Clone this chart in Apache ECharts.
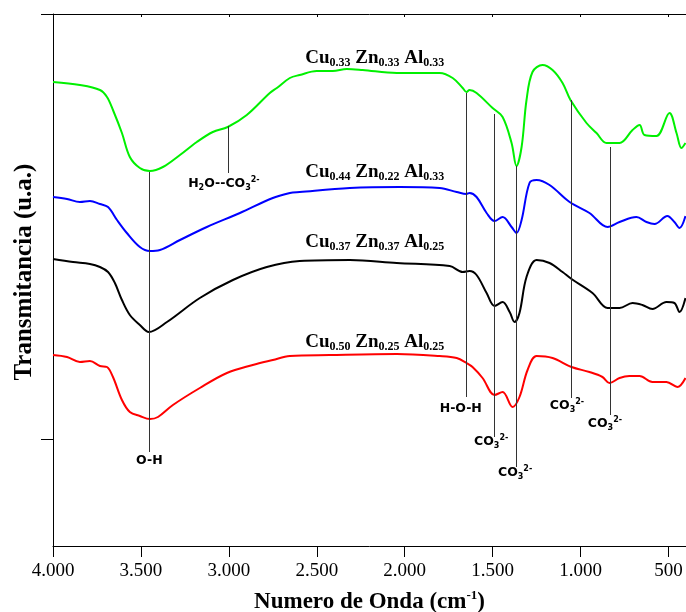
<!DOCTYPE html>
<html>
<head>
<meta charset="utf-8">
<script src="https://cdn.jsdelivr.net/npm/echarts@6/dist/echarts.min.js"></script>
<style>
  html, body { margin: 0; background: #fff; }
  #chart { width: 686px; height: 612px; }
</style>
</head>
<body>
<div id="chart"></div>
<script>
// wave numbers (cm-1) and transmittance (u.a.)
const wnGreen = [4000,3847,3733,3693,3659,3608,3563,3506,3449,3375,3278,3182,3091,3006,2898,2767,2727,2653,2597,2500,2409,2329,2239,2045,1801,1727,1670,1648,1631,1591,1500,1443,1392,1364,1335,1307,1273,1216,1159,1102,1057,966,909,852,778,704,664,636,568,494,454,426,403];
const tGreen = [464,461,456,449,436,413,389,378,375,379,391,404,414,419,431,453,458,468,471,475,475,477,476,473,473,468,458,454,456,453,438,429,403,380,399,446,474,481,476,463,446,423,413,403,403,416,421,411,410,433,413,398,403];

const wnBlue = [4000,3920,3847,3790,3733,3687,3636,3580,3506,3449,3392,3278,3125,2937,2750,2653,2597,2312,2028,1801,1704,1648,1631,1591,1534,1489,1443,1392,1364,1335,1290,1250,1176,1062,949,846,778,682,625,579,506,466,437,403];
const tBlue = [349,347,344,345,342,339,326,313,299,295,296,306,319,333,348,353,354,358,359,358,354,352,353,349,333,325,329,319,313,326,363,366,361,344,333,319,324,329,324,322,330,324,318,330];

const wnBlack = [4000,3886,3790,3733,3687,3648,3608,3563,3506,3455,3352,3165,2977,2784,2597,2312,2045,1744,1670,1631,1591,1534,1489,1443,1403,1375,1347,1307,1250,1176,1102,1051,932,846,778,704,648,591,511,466,437,403];
const tBlack = [287,284,282,279,274,263,246,231,221,214,224,248,266,279,285,286,283,280,274,275,271,253,240,244,234,224,233,269,286,283,274,267,253,238,238,243,241,237,244,243,234,248];

const wnRed = [4000,3920,3847,3790,3733,3693,3659,3608,3563,3506,3449,3403,3318,3165,3011,2864,2750,2653,2426,2045,1801,1704,1648,1614,1557,1489,1443,1386,1347,1301,1250,1159,1051,949,875,835,778,722,664,591,511,449,403];
const tRed = [191,189,184,185,180,179,169,146,134,130,127,129,141,158,173,181,186,190,191,192,190,188,183,179,168,151,154,139,149,176,190,188,179,174,169,163,168,170,170,164,164,159,168];

// band assignments
const annWn = [3450, 3005, 1650, 1490, 1365, 1055, 830];
const annTop = [374, 420, 453, 432, 380, 446, 399];
const annBottom = [94, 373, 149, 109, 79, 148, 131];
const annText = ['{t|O-H}', '{t|H}{b|2}{t|O--CO}{b|3}{p|2-}', '{t|H-O-H}', '{t|CO}{b|3}{p|2-}', '{t|CO}{b|3}{p|2-}', '{t|CO}{b|3}{p|2-}', '{t|CO}{b|3}{p|2-}'];
const annTextWn = [3452, 3028, 1681, 1508, 1372, 1077, 861];
const annTextT = [85, 362, 137, 104, 73, 140, 122];

// sample names
const sampleText = [
  '{m|Cu}{s|0.33}{m| Zn}{s|0.33}{m| Al}{s|0.33}',
  '{m|Cu}{s|0.44}{m| Zn}{s|0.22}{m| Al}{s|0.33}',
  '{m|Cu}{s|0.37}{m| Zn}{s|0.37}{m| Al}{s|0.25}',
  '{m|Cu}{s|0.50}{m| Zn}{s|0.25}{m| Al}{s|0.25}'
];
const sampleWn = 2568;
const sampleT = [488, 374, 304, 204];

const xTicks = [500, 1000, 1500, 2000, 2500, 3000, 3500, 4000];
const yTicks = [107, 532];

const serif = '"Liberation Serif", "Times New Roman", serif';
const sans = '"DejaVu Sans", Verdana, sans-serif';

function pairs(xs, ys) {
  return xs.map((x, i) => [x, ys[i]]);
}

function fmtWn(v) {
  if (v >= 1000) return Math.floor(v / 1000) + '.' + String(v % 1000).padStart(3, '0');
  return String(v);
}

function curve(color, wn, t) {
  return {
    type: 'line',
    data: pairs(wn, t),
    smooth: 0.35,
    symbol: 'none',
    silent: true,
    animation: false,
    lineStyle: {color: color, width: 2},
    z: 3
  };
}

const nameRich = {
  m: {fontFamily: serif, fontWeight: 'bold', fontSize: 19, lineHeight: 22, color: '#000'},
  s: {fontFamily: serif, fontWeight: 'bold', fontSize: 12, lineHeight: 14, verticalAlign: 'bottom', color: '#000'}
};
const annRich = {
  t: {fontFamily: sans, fontWeight: 'bold', fontSize: 12.5, lineHeight: 16, color: '#000'},
  b: {fontFamily: sans, fontWeight: 'bold', fontSize: 8, lineHeight: 10, verticalAlign: 'bottom', color: '#000'},
  p: {fontFamily: sans, fontWeight: 'bold', fontSize: 8, lineHeight: 10, verticalAlign: 'top', color: '#000'}
};

const markPoints = [];
annText.forEach((txt, i) => {
  markPoints.push({
    coord: [annTextWn[i], annTextT[i]],
    label: {show: true, position: 'inside', formatter: txt, rich: annRich}
  });
});
sampleText.forEach((txt, i) => {
  markPoints.push({
    coord: [sampleWn, sampleT[i]],
    label: {show: true, position: 'right', distance: 0, formatter: txt, rich: nameRich}
  });
});

let chart = echarts.init(document.getElementById('chart'));

let option = {
  backgroundColor: '#fff',
  animation: false,
  grid: {left: 53, right: 0, top: 14, bottom: 66, outerBoundsMode: 'none'},
  xAxis: [{
    type: 'value',
    min: 400,
    max: 4000,
    inverse: true,
    position: 'bottom',
    name: '{n|Numero de Onda (cm}{u|-1}{n|)}',
    nameLocation: 'middle',
    nameGap: 43,
    nameTextStyle: {
      rich: {
        n: {fontFamily: serif, fontWeight: 'bold', fontSize: 23, lineHeight: 26, color: '#000'},
        u: {fontFamily: serif, fontWeight: 'bold', fontSize: 13, lineHeight: 14, verticalAlign: 'top', color: '#000'}
      }
    },
    axisLine: {lineStyle: {color: '#000', width: 1}},
    axisTick: {show: true, inside: false, length: 11, customValues: xTicks, lineStyle: {color: '#000'}},
    axisLabel: {customValues: xTicks, formatter: fmtWn, fontFamily: serif, fontSize: 19, color: '#000', margin: 16},
    splitLine: {show: false}
  }, {
    type: 'value',
    min: 400,
    max: 4000,
    inverse: true,
    position: 'top',
    axisLine: {lineStyle: {color: '#000', width: 1}},
    axisTick: {show: true, inside: true, length: 3, customValues: xTicks, lineStyle: {color: '#000'}},
    axisLabel: {show: false},
    splitLine: {show: false}
  }],
  yAxis: {
    type: 'value',
    min: 0,
    max: 532,
    name: 'Transmitancia (u.a.)',
    nameLocation: 'middle',
    nameGap: 16,
    nameTextStyle: {fontFamily: serif, fontWeight: 'bold', fontSize: 25, color: '#000', padding: [0, 0, 0, 16]},
    axisLine: {show: true, lineStyle: {color: '#000', width: 1}},
    axisTick: {show: true, inside: false, length: 12, customValues: yTicks, lineStyle: {color: '#000'}},
    axisLabel: {show: false},
    splitLine: {show: false}
  },
  series: [
    curve('#00f000', wnGreen, tGreen),
    curve('#0000ff', wnBlue, tBlue),
    curve('#000000', wnBlack, tBlack),
    curve('#ff0000', wnRed, tRed),
    {
      type: 'line',
      data: [],
      silent: true,
      animation: false,
      markLine: {
        silent: true,
        animation: false,
        symbol: 'none',
        emphasis: {disabled: true},
        lineStyle: {color: '#333', width: 1, type: 'solid'},
        label: {show: false},
        data: annWn.map((w, i) => [{coord: [w, annTop[i]]}, {coord: [w, annBottom[i]]}])
      },
      markPoint: {
        silent: true,
        animation: false,
        symbol: 'circle',
        symbolSize: 1,
        itemStyle: {color: 'rgba(0,0,0,0)'},
        emphasis: {disabled: true},
        data: markPoints
      }
    }
  ]
};

chart.setOption(option);
</script>
</body>
</html>
